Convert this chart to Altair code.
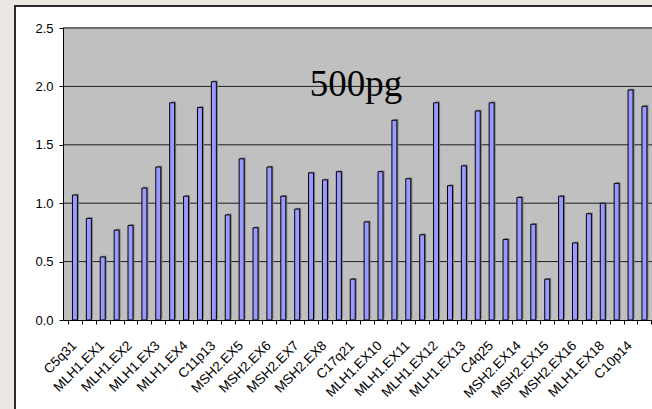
import json
import altair as alt
import pandas as pd

# Probe names in plotting order (only every other one is printed on the axis)
categories = [
    "C5q31", "MSH2.EX1", "MLH1.EX1", "MSH2.EX2", "MLH1.EX2", "MSH2.EX3",
    "MLH1.EX3", "MSH2.EX4", "MLH1.EX4", "MLH1.EX5", "C11p13", "MLH1.EX6",
    "MSH2.EX5", "MLH1.EX7", "MSH2.EX6", "MLH1.EX8", "MSH2.EX7", "MLH1.EX9",
    "MSH2.EX8", "MSH2.EX9", "C17q21", "MSH2.EX10", "MLH1.EX10", "MSH2.EX11",
    "MLH1.EX11", "MSH2.EX12", "MLH1.EX12", "MSH2.EX13", "MLH1.EX13", "MLH1.EX14",
    "C4q25", "MLH1.EX15", "MSH2.EX14", "MLH1.EX16", "MSH2.EX15", "MLH1.EX17",
    "MSH2.EX16", "MLH1.EX19", "MLH1.EX18", "C3p22", "C10p14", "C2p16",
]
ratios = [
    1.07, 0.87, 0.54, 0.77, 0.81, 1.13, 1.31, 1.86, 1.06, 1.82,
    2.04, 0.90, 1.38, 0.79, 1.31, 1.06, 0.95, 1.26, 1.20, 1.27,
    0.35, 0.84, 1.27, 1.71, 1.21, 0.73, 1.86, 1.15, 1.32, 1.79,
    1.86, 0.69, 1.05, 0.82, 0.35, 1.06, 0.66, 0.91, 1.00, 1.17,
    1.97, 1.83,
]
y_ticks = [0.0, 0.5, 1.0, 1.5, 2.0, 2.5]
grid_values = [0.5, 1.0, 1.5, 2.0]
top_value = [2.5]
title_text = "500pg"

n = len(categories)
# each probe occupies one unit slot on the x scale; bars sit in the slot middle
bars_df = pd.DataFrame({
    "probe": categories,
    "slot": [i + 0.5 for i in range(n)],
    "ratio": ratios,
})
one = pd.DataFrame({"k": [0]})

PLOT_W = 589
PLOT_H = 292
STEP = 14.13  # pixels per probe slot; the last slot runs past the right edge

x_scale = alt.Scale(domain=[0, PLOT_W / STEP], nice=False, zero=False)
y_scale = alt.Scale(domain=[0, 2.5], nice=False, zero=True)

# slot boundaries get ticks; every even probe gets its name under its slot
names_js = json.dumps(categories)
label_expr = (
    "datum.value % 2 == 0 && datum.value < " + str(n)
    + " ? " + names_js + "[datum.value] : ''"
)

x_axis = alt.Axis(
    title=None, values=list(range(n + 1)), labelAngle=-45,
    labelAlign="right", labelBaseline="middle", labelPadding=19,
    labelOffset=6, labelOverlap=False, labelFlush=False,
    labelFont="Liberation Sans", labelFontSize=13.5, labelColor="black",
    labelExpr=label_expr, tickSize=4, tickColor="black",
    domainColor="black", grid=False, zindex=2,
)
y_axis = alt.Axis(
    title=None, values=y_ticks, format=".1f", tickSize=4,
    tickColor="black", domainColor="black", labelPadding=6,
    labelFont="Liberation Sans", labelFontSize=13, labelColor="black",
    grid=False, zindex=2,
)

# White chart box with dark frame
frame = alt.Chart(one).mark_rect(
    fill="white", stroke="#2b2b2b", strokeWidth=2, clip=False
).encode(
    x=alt.value(-48), x2=alt.value(700), y=alt.value(-22), y2=alt.value(600)
)

# Gray plot area
plot_bg = alt.Chart(one).mark_rect(fill="#c0c0c0", clip=False).encode(
    x=alt.value(0), x2=alt.value(700), y=alt.value(0), y2=alt.value(PLOT_H)
)

top_line = alt.Chart(pd.DataFrame({"v": top_value})).mark_rule(
    color="#6a6a6a", strokeWidth=2, clip=False
).encode(
    y=alt.Y("v:Q", scale=y_scale, axis=y_axis),
    x=alt.value(0), x2=alt.value(700),
)

grid = alt.Chart(pd.DataFrame({"v": grid_values})).mark_rule(
    color="#1e1e1e", strokeWidth=1, clip=False
).encode(
    y=alt.Y("v:Q", scale=y_scale, axis=y_axis),
    x=alt.value(0), x2=alt.value(700),
)

shadow = alt.Chart(bars_df).mark_bar(
    size=5, color="#7c7c7c", xOffset=1.5, yOffset=-1.2, clip=False
).encode(
    x=alt.X("slot:Q", scale=x_scale, axis=x_axis),
    y=alt.Y("ratio:Q", scale=y_scale, axis=y_axis),
)

bars = alt.Chart(bars_df).mark_bar(
    size=5, fill="#9999ff", stroke="black", strokeWidth=1, clip=False
).encode(
    x=alt.X("slot:Q", scale=x_scale, axis=x_axis),
    y=alt.Y("ratio:Q", scale=y_scale, axis=y_axis),
    tooltip=["probe:N", "ratio:Q"],
)

title = alt.Chart(one).mark_text(
    text=title_text, font="Liberation Serif", fontSize=37, color="black",
    align="center", baseline="alphabetic", clip=False,
).encode(x=alt.value(293), y=alt.value(68))

chart = alt.layer(frame, plot_bg, top_line, grid, shadow, bars, title).properties(
    width=PLOT_W,
    height=PLOT_H,
    autosize=alt.AutoSizeParams(type="none"),
    padding={"left": 63, "top": 28, "right": 0, "bottom": 89},
    background="#ebe8e4",
).configure_view(stroke=None)

chart.save("out.html", embed_options={"renderer": "svg", "actions": False})
